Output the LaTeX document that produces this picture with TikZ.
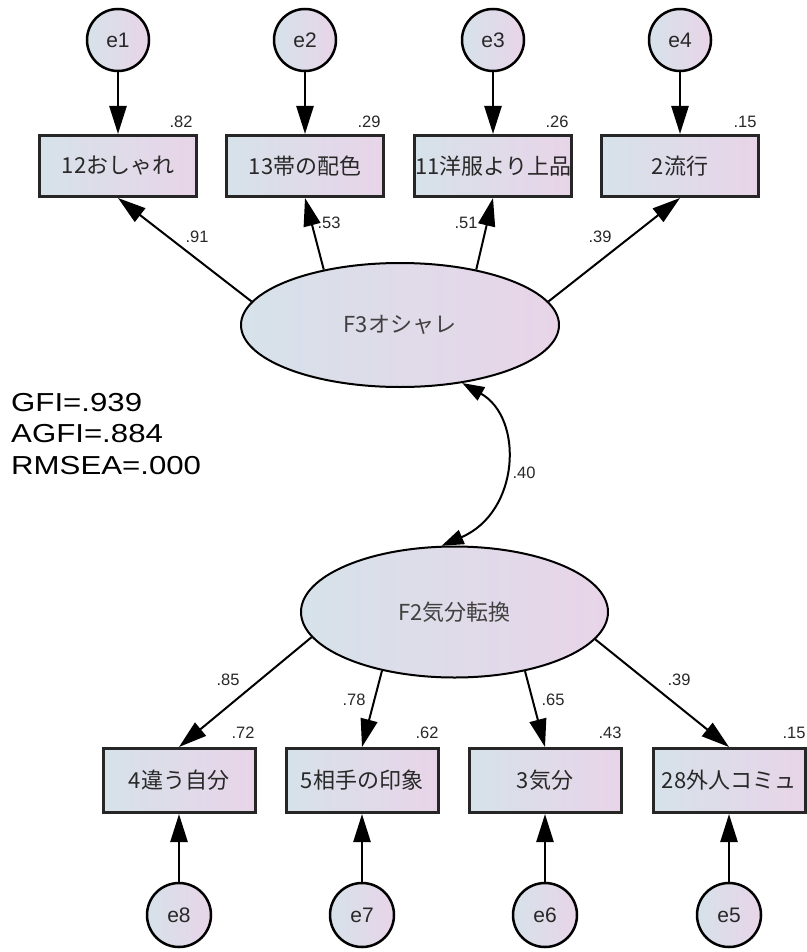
\documentclass[tikz,border=0pt]{standalone}
\usepackage{graphicx}
\usepackage{fontspec}
\setmainfont{Liberation Sans}
\newfontfamily\jp{Noto Sans CJK JP}
\usetikzlibrary{arrows.meta,shapes.geometric}

\definecolor{shadeL}{RGB}{214,226,234}
\definecolor{shadeR}{RGB}{232,212,232}
\definecolor{ink}{RGB}{40,40,40}

\tikzset{
  grad/.style={left color=shadeL, right color=shadeR},
  obs/.style={draw=black!85, line width=3pt, grad, minimum width=157pt,
    minimum height=61pt, inner sep=0pt,
    font=\jp\fontsize{22}{22}\selectfont, text=ink},
  err/.style={circle, draw=black, line width=2.5pt, grad, minimum size=62pt,
    inner sep=0pt, font=\fontsize{21}{21}\selectfont, text=ink},
  lat/.style={ellipse, draw=black, line width=2pt, grad, inner sep=0pt,
    font=\jp\fontsize{22}{22}\selectfont, text=black!75},
  coef/.style={font=\fontsize{16.5}{16.5}\selectfont, inner sep=0pt, text=ink},
  tip/.style={-{Triangle[length=28pt,width=17pt]}},
  errarrow/.style={tip, line width=2.5pt},
  patharrow/.style={tip, line width=2pt},
}

\begin{document}
\begin{tikzpicture}[x=1pt,y=-1pt]
\useasboundingbox (0,0) rectangle (806,952);

% latent factors
\node[lat, minimum width=318pt, minimum height=124pt] (F3) at (400,325) {F3オシャレ};
\node[lat, minimum width=307pt, minimum height=131pt] (F2) at (454.5,612) {F2気分転換};

% indicators of F3
\node[obs] (b1) at (118,166) {12おしゃれ};
\node[obs] (b2) at (305,166) {13帯の配色};
\node[obs] (b3) at (493,166) {11洋服より上品};
\node[obs] (b4) at (680,166) {2流行};

% indicators of F2
\node[obs, minimum width=152pt, minimum height=64pt] (c1) at (179,780.5) {4違う自分};
\node[obs, minimum width=152pt, minimum height=64pt] (c2) at (362,780.5) {5相手の印象};
\node[obs, minimum width=152pt, minimum height=64pt] (c3) at (545,780.5) {3気分};
\node[obs, minimum width=152pt, minimum height=64pt] (c4) at (729,780.5) {28外人コミュ};

% error terms
\node[err] (e1) at (118,40) {e1};
\node[err] (e2) at (305,40) {e2};
\node[err] (e3) at (493,40) {e3};
\node[err] (e4) at (680,40) {e4};
\node[err, minimum size=64pt] (e8) at (179,915) {e8};
\node[err, minimum size=64pt] (e7) at (362,915) {e7};
\node[err, minimum size=64pt] (e6) at (545,915) {e6};
\node[err, minimum size=64pt] (e5) at (729,915) {e5};

% error paths
\draw[errarrow] (e1) -- (b1.north);
\draw[errarrow] (e2) -- (b2.north);
\draw[errarrow] (e3) -- (b3.north);
\draw[errarrow] (e4) -- (b4.north);
\draw[errarrow] (e8) -- (c1.south);
\draw[errarrow] (e7) -- (c2.south);
\draw[errarrow] (e6) -- (c3.south);
\draw[errarrow] (e5) -- (c4.south);

% loadings
\draw[patharrow] (F3.171) -- (b1.south);
\draw[patharrow] (F3.144) -- (b2.south);
\draw[patharrow] (F3.36) -- (b3.south);
\draw[patharrow] (F3.9.5) -- (b4.south);
\draw[patharrow] (F2.190) -- (c1.north);
\draw[patharrow] (F2.219) -- (c2.north);
\draw[patharrow] (F2.320) -- (c3.north);
\draw[patharrow] (F2.349.5) -- (c4.north);

% factor correlation
\draw[line width=2pt, {Triangle[length=22pt,width=15pt]}-{Triangle[length=22pt,width=15pt]}]
  (F3.317) .. controls (524,418) and (520,512) .. (F2.101);

% squared multiple correlations
\node[coef] (r1) at (181,122) {.82};
\node[coef] (r2) at (369,122) {.29};
\node[coef] (r3) at (557,122) {.26};
\node[coef] (r4) at (745,122) {.15};
\node[coef] (r8) at (243,733) {.72};
\node[coef] (r7) at (427,733) {.62};
\node[coef] (r6) at (610,733) {.43};
\node[coef] (r5) at (794,733) {.15};

% standardized estimates
\node[coef] (l1) at (197,237) {.91};
\node[coef] (l2) at (329,223) {.53};
\node[coef] (l3) at (466,223) {.51};
\node[coef] (l4) at (600,237) {.39};
\node[coef] (l5) at (228,680) {.85};
\node[coef] (l6) at (354,700) {.78};
\node[coef] (l7) at (553,700) {.65};
\node[coef] (l8) at (679,680) {.39};
\node[coef] (rho) at (524,473) {.40};

% fit indices
\node[anchor=north west, inner sep=0pt, align=left,
  font=\fontsize{26}{31.5}\selectfont] (fit) at (11,393)
  {\scalebox{1.2}[1]{GFI=.939}\\ \scalebox{1.2}[1]{AGFI=.884}\\ \scalebox{1.2}[1]{RMSEA=.000}};
\end{tikzpicture}
\end{document}
